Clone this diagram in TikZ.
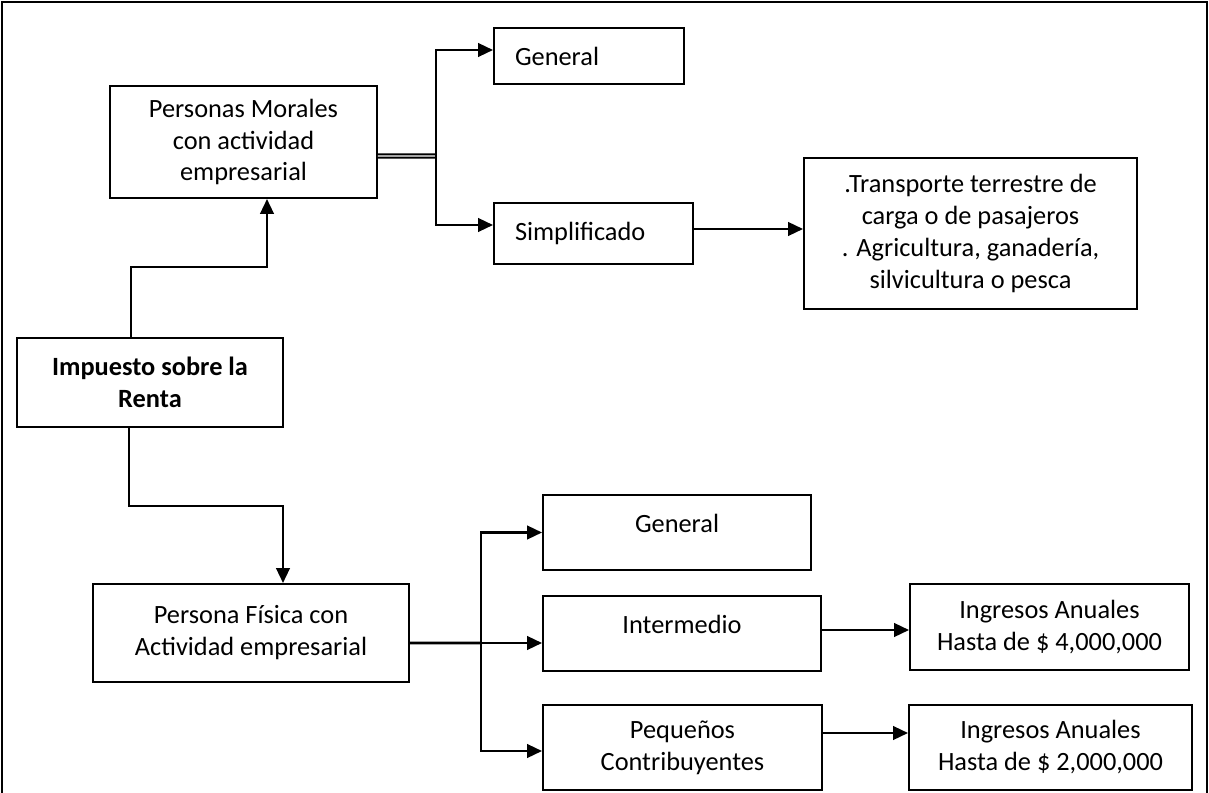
\documentclass[tikz,border=0pt]{standalone}
\usepackage{fontspec}
\setmainfont{Carlito}
\usetikzlibrary{arrows.meta, positioning, calc}
\newcommand{\boxfont}{\fontsize{15}{18.2}\selectfont}

\begin{document}
\begin{tikzpicture}[x=0.02cm, y=-0.02cm,
    box/.style={rectangle, draw=black, line width=1.1pt, align=center, inner sep=0pt,
        font=\boxfont},
    leftbox/.style={box, align=left, inner xsep=0.42cm},
    arr/.style={-{Triangle[length=0.3cm, width=0.27cm]}, line width=1.5pt},
    link/.style={line width=1.5pt},
    frame/.style={line width=1.5pt}
]
\useasboundingbox (0,0) rectangle (1209,793);

% Page frame
\draw[frame] (2,793) -- (2,2) -- (1207,2) -- (1207,793);

% Root
\node[box, minimum width=5.32cm, minimum height=1.78cm, font=\boxfont\bfseries] (isr) at (150,382.5) {Impuesto sobre la\\Renta};

% Personas morales branch
\node[box, minimum width=5.34cm, minimum height=2.24cm] (pm) at (243.5,142) {Personas Morales\\con actividad\\empresarial};
\node[leftbox, minimum width=3.8cm, minimum height=1.12cm, text width=2.96cm] (gen1) at (589,56) {General};
\node[leftbox, minimum width=3.98cm, minimum height=1.22cm, text width=3.14cm] (simp) at (593.5,233.5) {Simplificado};
\node[box, minimum width=6.66cm, minimum height=3.02cm] (trans) at (970.5,233.5) {.Transporte terrestre de\\carga o de pasajeros\\. Agricultura, ganadería,\\silvicultura o pesca};

% Persona fisica branch
\node[box, minimum width=6.32cm, minimum height=1.96cm] (pf) at (251,633) {Persona Física con\\Actividad empresarial};
\node[box, minimum width=5.36cm, minimum height=1.5cm, text depth=0.36cm] (gen2) at (677,532.5) {General};
\node[box, minimum width=5.56cm, minimum height=1.5cm, text depth=0.36cm] (inter) at (682,633.5) {Intermedio};
\node[box, minimum width=5.58cm, minimum height=1.7cm] (peq) at (682.5,747.5) {Pequeños\\Contribuyentes};
\node[box, minimum width=5.58cm, minimum height=1.72cm] (ing4) at (1049.5,627) {Ingresos Anuales\\Hasta de \$ 4,000,000};
\node[box, minimum width=5.66cm, minimum height=1.7cm] (ing2) at (1050.5,747.5) {Ingresos Anuales\\Hasta de \$ 2,000,000};

% Root to both branches
\draw[arr] ([xshift=-0.38cm]isr.north) -- ++(0,-70) -| ([xshift=0.47cm]pm.south);
\draw[arr] ([xshift=-0.42cm]isr.south) -- ++(0,78) -| ([xshift=0.64cm]pf.north);

% Morales regimes
\coordinate (jm) at (436,156);
\draw[double, double distance=0.8pt, line width=1.1pt] ([yshift=-0.28cm]pm.east) -- (jm);
\draw[arr] (jm) |- ([yshift=0.12cm]gen1.west);
\draw[arr] (jm) |- ([yshift=0.17cm]simp.west);
\draw[arr] ([yshift=0.09cm]simp.east) -- ([yshift=0.09cm]simp.east -| trans.west);

% Fisica regimes
\coordinate (jf) at (481,643);
\draw[link] ([yshift=-0.2cm]pf.east) -- (jf);
\draw[arr] (jf) |- (gen2.west);
\draw[arr] (jf) |- ([yshift=-0.19cm]inter.west);
\draw[arr] (jf) |- ([yshift=-0.07cm]peq.west);
\draw[arr] ([yshift=0.07cm]inter.east) -- ([yshift=0.07cm]inter.east -| ing4.west);
\draw[arr] ([yshift=0.29cm]peq.east) -- ([yshift=0.29cm]peq.east -| ing2.west);

\end{tikzpicture}
\end{document}
